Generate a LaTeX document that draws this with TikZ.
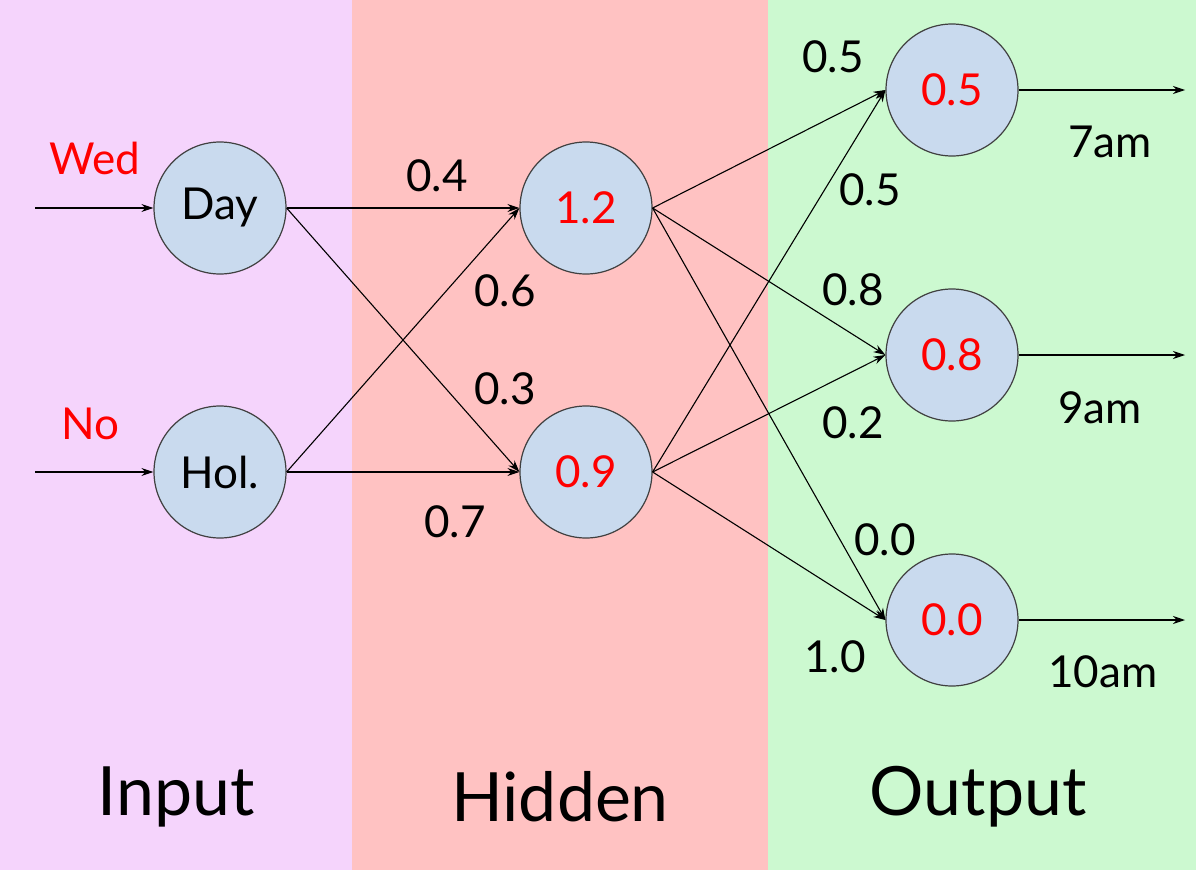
\documentclass[tikz,border=0pt]{standalone}
\usepackage{fontspec}
\setmainfont{Lato}
\usetikzlibrary{arrows.meta}
\definecolor{bgA}{HTML}{F5D4FC}
\definecolor{bgB}{HTML}{FFC2C2}
\definecolor{bgC}{HTML}{CCF9D0}
\definecolor{nfill}{HTML}{C9DAEE}
\begin{document}
\begin{tikzpicture}[x=1pt,y=-1pt,
  neuron/.style={circle,draw=black!75,line width=1.2pt,fill=nfill,minimum size=132pt,inner sep=0pt,font=\fontsize{44}{48}\selectfont},
  lab/.style={font=\fontsize{44}{48}\selectfont},
  red/.style={text=red},
  conn/.style={line width=1.1pt,-{Stealth[length=12pt,width=8pt]}},
  big/.style={font=\fontsize{68}{72}\selectfont}]
\useasboundingbox (0,0) rectangle (1196,870);
\fill[bgA] (0,0) rectangle (352,870);
\fill[bgB] (352,0) rectangle (768,870);
\fill[bgC] (768,0) rectangle (1196,870);
\node[neuron] (day) at (220,208) {Day};
\node[neuron] (hol) at (220,472) {Hol.};
\node[neuron,text=red] (h1) at (586,208) {1.2};
\node[neuron,text=red] (h2) at (586,472) {0.9};
\node[neuron,text=red] (o1) at (952,90) {0.5};
\node[neuron,text=red] (o2) at (952,355) {0.8};
\node[neuron,text=red] (o3) at (952,620) {0.0};
\coordinate (i1) at (35,208);
\coordinate (i2) at (35,472);
\coordinate (e1) at (1185,90);
\coordinate (e2) at (1185,355);
\coordinate (e3) at (1185,620);
\draw[conn] (i1) -- (day);
\draw[conn] (i2) -- (hol);
\draw[conn] (day.east) -- (h1.west);
\draw[conn] (day.east) -- (h2.west);
\draw[conn] (hol.east) -- (h1.west);
\draw[conn] (hol.east) -- (h2.west);
\foreach \h in {h1,h2}{\foreach \o in {o1,o2,o3}{\draw[conn] (\h.east) -- (\o.west);}}
\draw[conn] (o1) -- (e1);
\draw[conn] (o2) -- (e2);
\draw[conn] (o3) -- (e3);
\node[lab,red] (lw) at (95,158) {Wed};
\node[lab,red] (ln) at (90,424) {No};
\node[lab] (l04) at (437,176) {0.4};
\node[lab] (l06) at (505,291) {0.6};
\node[lab] (l03) at (505,389) {0.3};
\node[lab] (l07) at (455,522) {0.7};
\node[lab] (l05a) at (833,57) {0.5};
\node[lab] (l05b) at (870,190) {0.5};
\node[lab] (l08) at (853,290) {0.8};
\node[lab] (l02) at (853,423) {0.2};
\node[lab] (l00) at (885,540) {0.0};
\node[lab] (l10) at (835,657) {1.0};
\node[lab] (t7) at (1110,142) {7am};
\node[lab] (t9) at (1100,408) {9am};
\node[lab] (t10) at (1103,672) {10am};
\node[big] (in) at (176,797) {Input};
\node[big] (hid) at (560,797) {Hidden};
\node[big] (out) at (978,797) {Output};
\end{tikzpicture}
\end{document}
